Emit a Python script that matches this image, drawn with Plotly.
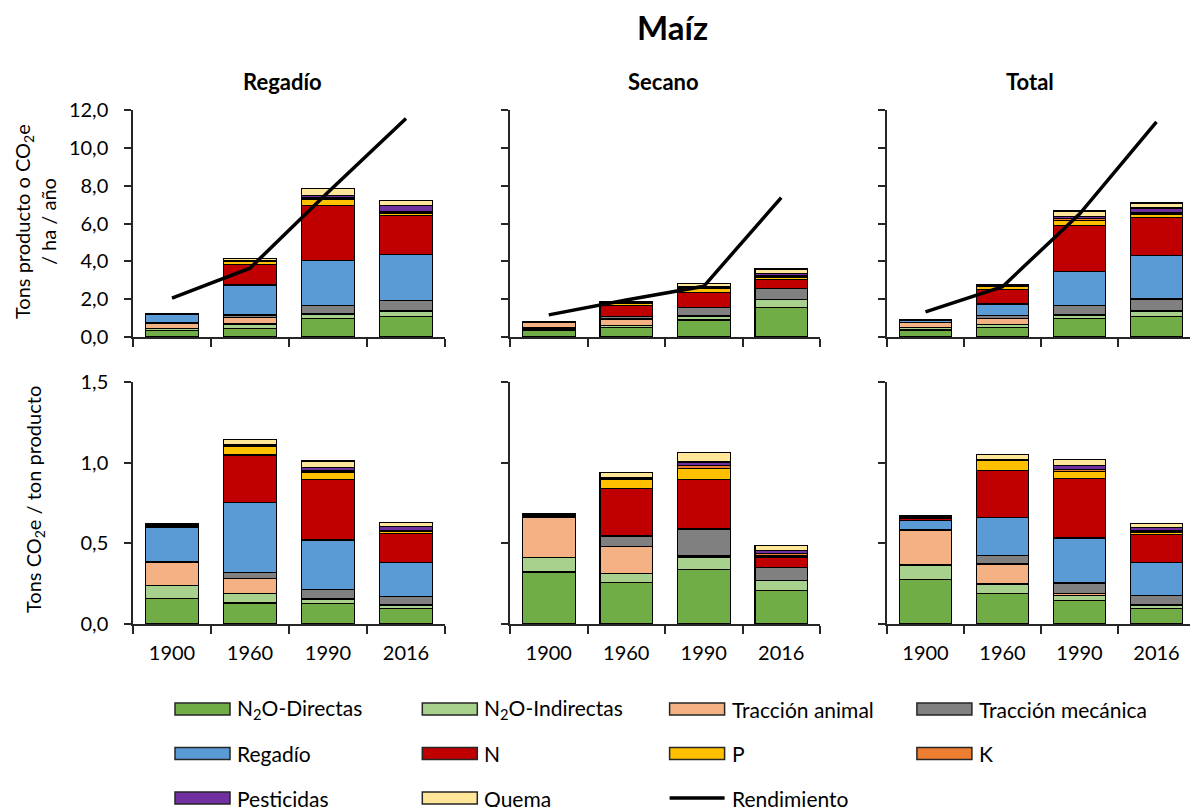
import plotly.graph_objects as go
from plotly.subplots import make_subplots

# the page body has an 8px margin, so the figure is drawn 8px in from the corner
OFF = 8
W, H = 1198 - OFF, 807 - OFF

years = ["1900", "1960", "1990", "2016"]
components = ["N<sub>2</sub>O-Directas", "N<sub>2</sub>O-Indirectas", "Tracción animal",
              "Tracción mecánica", "Regadío", "N", "P", "K", "Pesticidas", "Quema"]
colors = ["#70AD47", "#A9D18E", "#F4B183", "#808080", "#5B9BD5",
          "#C00000", "#FFC000", "#ED7D31", "#7030A0", "#FFE699"]

# tons producto o CO2e / ha / año (one row per component, bottom to top)
regadio_ha = [
    [0.33, 0.47, 0.97, 1.09],
    [0.14, 0.22, 0.23, 0.25],
    [0.25, 0.33, 0.04, 0.03],
    [0.02, 0.14, 0.43, 0.58],
    [0.46, 1.59, 2.37, 2.40],
    [0.02, 1.07, 2.92, 2.07],
    [0.01, 0.20, 0.31, 0.14],
    [0.00, 0.02, 0.08, 0.09],
    [0.00, 0.015, 0.15, 0.29],
    [0.02, 0.11, 0.33, 0.26],
]
secano_ha = [
    [0.37, 0.51, 0.90, 1.55],
    [0.11, 0.11, 0.20, 0.43],
    [0.29, 0.33, 0.02, 0.015],
    [0.014, 0.13, 0.43, 0.57],
    [0.0, 0.006, 0.008, 0.015],
    [0.01, 0.58, 0.81, 0.48],
    [0.005, 0.115, 0.19, 0.09],
    [0.002, 0.012, 0.05, 0.07],
    [0.0, 0.008, 0.05, 0.15],
    [0.01, 0.06, 0.16, 0.22],
]
total_ha = [
    [0.37, 0.50, 0.96, 1.09],
    [0.12, 0.16, 0.20, 0.25],
    [0.29, 0.33, 0.05, 0.045],
    [0.007, 0.15, 0.44, 0.62],
    [0.08, 0.61, 1.82, 2.31],
    [0.016, 0.77, 2.41, 1.99],
    [0.008, 0.16, 0.27, 0.16],
    [0.003, 0.016, 0.10, 0.09],
    [0.0, 0.011, 0.14, 0.26],
    [0.011, 0.08, 0.27, 0.27],
]

# tons CO2e / ton producto
regadio_ton = [
    [0.16, 0.13, 0.125, 0.095],
    [0.08, 0.06, 0.03, 0.022],
    [0.14, 0.09, 0.005, 0.003],
    [0.005, 0.038, 0.055, 0.05],
    [0.215, 0.436, 0.306, 0.209],
    [0.008, 0.294, 0.377, 0.18],
    [0.004, 0.055, 0.04, 0.012],
    [0.002, 0.006, 0.01, 0.008],
    [0.0, 0.004, 0.02, 0.025],
    [0.006, 0.03, 0.042, 0.023],
]
secano_ton = [
    [0.322, 0.257, 0.338, 0.21],
    [0.089, 0.055, 0.077, 0.059],
    [0.247, 0.167, 0.008, 0.002],
    [0.012, 0.065, 0.163, 0.077],
    [0.0, 0.003, 0.003, 0.002],
    [0.008, 0.293, 0.305, 0.065],
    [0.004, 0.058, 0.07, 0.012],
    [0.002, 0.006, 0.02, 0.01],
    [0.0, 0.004, 0.02, 0.02],
    [0.002, 0.03, 0.06, 0.03],
]
total_ton = [
    [0.276, 0.189, 0.148, 0.096],
    [0.09, 0.059, 0.031, 0.022],
    [0.213, 0.124, 0.008, 0.004],
    [0.005, 0.055, 0.067, 0.055],
    [0.06, 0.232, 0.279, 0.203],
    [0.012, 0.292, 0.369, 0.175],
    [0.006, 0.061, 0.041, 0.014],
    [0.002, 0.006, 0.015, 0.008],
    [0.0, 0.004, 0.022, 0.023],
    [0.008, 0.03, 0.042, 0.024],
]

# Rendimiento (tons producto / ha)
regadio_rend = [2.05, 3.64, 7.65, 11.55]
secano_rend = [1.17, 1.96, 2.68, 7.37]
total_rend = [1.33, 2.66, 6.5, 11.37]

FONT = "Lato, 'Open Sans', sans-serif"
AXIS = "#262626"


def px(x):
    # page pixel -> paper fraction
    return (x - OFF) / W


def py(y):
    return 1 - (y - OFF) / H


fig = make_subplots(rows=2, cols=3)

panels = [(regadio_ha, regadio_ton, regadio_rend),
          (secano_ha, secano_ton, secano_rend),
          (total_ha, total_ton, total_rend)]

for c, (top, bottom, rend) in enumerate(panels, start=1):
    for row, data in ((1, top), (2, bottom)):
        for name, color, vals in zip(components, colors, data):
            fig.add_trace(go.Bar(x=years, y=vals, name=name, showlegend=False,
                                 marker=dict(color=color, line=dict(color="black", width=1.2))),
                          row=row, col=c)
    fig.add_trace(go.Scatter(x=years, y=rend, name="Rendimiento", mode="lines", showlegend=False,
                             line=dict(color="black", width=3.5), cliponaxis=False),
                  row=1, col=c)

fig.update_layout(barmode="stack", bargap=0.32, width=W, height=H,
                  margin=dict(l=0, r=0, t=0, b=0),
                  plot_bgcolor="white", paper_bgcolor="white",
                  separators=",.",
                  font=dict(family=FONT, size=20, color="black"))

x_domains = [[px(133), px(445)], [px(510), px(820)], [px(887), px(1195)]]
top_domain = [py(337), py(110)]
bot_domain = [py(624), py(382)]

for i in range(6):
    row = i // 3 + 1
    col = i % 3 + 1
    fig.update_xaxes(domain=x_domains[col - 1], showline=True, linecolor=AXIS, linewidth=1.5,
                     ticks="outside", tickson="boundaries", ticklen=8, tickwidth=1.5, tickcolor=AXIS,
                     showgrid=False, showticklabels=(row == 2), ticklabelstandoff=10,
                     tickfont=dict(size=20), automargin=False, row=row, col=col)
    fig.update_yaxes(domain=top_domain if row == 1 else bot_domain,
                     range=[0, 12] if row == 1 else [0, 1.5],
                     dtick=2 if row == 1 else 0.5, tickformat=".1f",
                     showline=True, linecolor=AXIS, linewidth=1.5,
                     ticks="outside", ticklen=7, tickwidth=1.5, tickcolor=AXIS,
                     showgrid=False, zeroline=False, showticklabels=(col == 1),
                     ticklabelstandoff=12, tickfont=dict(size=20), automargin=False,
                     row=row, col=col)

annotations = [
    dict(text="<b>Maíz</b>", x=px(672), y=py(27), font=dict(size=33)),
    dict(text="<b>Regadío</b>", x=px(282), y=py(82), font=dict(size=22)),
    dict(text="<b>Secano</b>", x=px(663), y=py(82), font=dict(size=22)),
    dict(text="<b>Total</b>", x=px(1030), y=py(82), font=dict(size=22)),
    dict(text="Tons producto o CO<sub>2</sub>e<br>/ ha / año", x=px(35), y=py(222),
         textangle=-90, font=dict(size=20)),
    dict(text="Tons CO<sub>2</sub>e / ton producto", x=px(35), y=py(500),
         textangle=-90, font=dict(size=20)),
]
for a in annotations:
    a.update(xref="paper", yref="paper", showarrow=False, xanchor="center", yanchor="middle")

# legend drawn below the panels, four entries per row
shapes = []
legend_names = components + ["Rendimiento"]
for i, name in enumerate(legend_names):
    left = 175 + (i % 4) * 247.3
    yc = 709 + (i // 4) * 44.5
    if name == "Rendimiento":
        shapes.append(dict(type="line", xref="paper", yref="paper",
                           x0=px(left), x1=px(left + 55), y0=py(yc), y1=py(yc),
                           line=dict(color="black", width=3.5)))
    else:
        shapes.append(dict(type="rect", xref="paper", yref="paper",
                           x0=px(left), x1=px(left + 55), y0=py(yc + 6), y1=py(yc - 6),
                           fillcolor=colors[i], line=dict(color="#262626", width=1.5)))
    annotations.append(dict(text=name, x=px(left + 60), y=py(yc), xref="paper", yref="paper",
                            showarrow=False, xanchor="left", yanchor="middle",
                            font=dict(size=21)))

fig.update_layout(annotations=annotations, shapes=shapes)

fig.write_html("out.html")
